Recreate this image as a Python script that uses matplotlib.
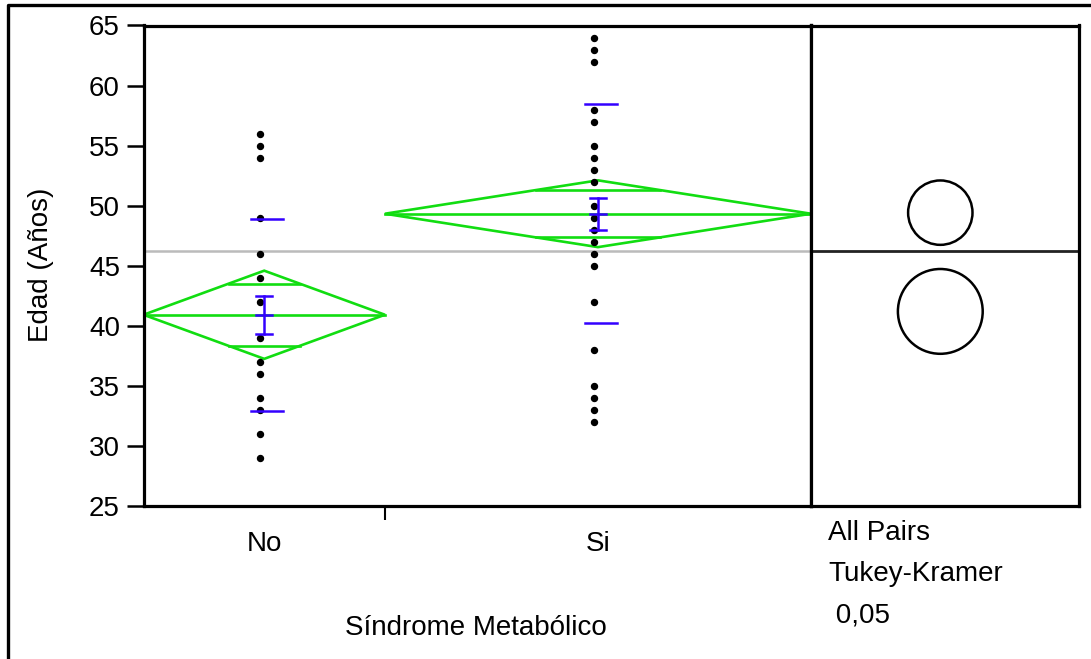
import numpy as np
import matplotlib
matplotlib.use('Agg')
import matplotlib.pyplot as plt
from matplotlib.lines import Line2D
from matplotlib.patches import Polygon, Circle

plt.rcParams['font.family'] = ['Liberation Sans', 'DejaVu Sans']

# data
groups = ['No', 'Si']
group_n = [17, 30]
ages_no = [56, 55, 54, 49, 46, 44, 42, 39, 37, 36, 34, 33, 31, 29]
ages_si = [64, 63, 62, 58, 57, 55, 54, 53, 52, 50, 49, 48, 47, 46, 45, 42, 38, 35, 34, 33, 32]
means = [40.92, 49.33]
ci_half = [3.67, 2.78]
se = [1.57, 1.35]
sd = [8.0, 9.1]
grand_mean = 46.25
circle_centers = [41.2, 49.42]
circle_radii = [3.53, 2.68]
yticks = [25, 30, 35, 40, 45, 50, 55, 60, 65]

W, H = 1091, 659
GREEN = '#11dd11'
BLUE = '#3300ff'
FS = 20


def rect(x0, y0, x1, y1):
    return [x0 / W, 1 - y1 / H, (x1 - x0) / W, (y1 - y0) / H]


fig = plt.figure(figsize=(W / 100, H / 100), dpi=100)
ax = fig.add_axes(rect(143.5, 25.5, 811, 506))
axc = fig.add_axes(rect(811, 25.5, 1079, 506))

# group spans proportional to n
edges = np.concatenate([[0], np.cumsum(group_n)])
total = edges[-1]
px_per_unit = (811 - 143.5) / total

ax.axhline(grand_mean, color='#bbbbbb', lw=1.8, zorder=1)

for i, ages in enumerate([ages_no, ages_si]):
    a, b = edges[i], edges[i + 1]
    c = (a + b) / 2
    m, h = means[i], ci_half[i]
    # diamond
    ax.add_patch(Polygon([(a, m), (c, m + h), (b, m), (c, m - h)], closed=True,
                         fill=False, edgecolor=GREEN, lw=1.9, zorder=2))
    ax.plot([a, b], [m, m], color=GREEN, lw=1.9, zorder=2)
    off = h / np.sqrt(2)
    hw = (b - a) / 2 * (1 - 1 / np.sqrt(2))
    for yy in (m + off, m - off):
        ax.plot([c - hw, c + hw], [yy, yy], color=GREEN, lw=1.9, zorder=2)
    # points
    ax.plot([c - 4 / px_per_unit] * len(ages), ages, 'o', color='black',
            markersize=4.3, zorder=3)
    # error bar (standard error)
    cap = 8 / px_per_unit
    ax.plot([c, c], [m - se[i], m + se[i]], color=BLUE, lw=1.8, zorder=4)
    for yy in (m - se[i], m, m + se[i]):
        ax.plot([c - cap, c + cap], [yy, yy], color=BLUE, lw=1.8, zorder=4)
    # std dev marks
    sc = c + 3 / px_per_unit
    sw = 16 / px_per_unit
    for yy in (m - sd[i], m + sd[i]):
        ax.plot([sc - sw, sc + sw], [yy, yy], color=BLUE, lw=1.8, zorder=4)

ax.set_xlim(0, total)
ax.set_ylim(25, 65)
ax.set_yticks(yticks)
ax.set_xticks(edges[1:-1])
ax.set_xticklabels([])
centers = (edges[:-1] + edges[1:]) / 2
ax.set_xticks(centers, labels=groups, minor=True)
ax.tick_params(axis='y', direction='out', length=12, width=1.8, labelsize=FS, pad=5)
ax.tick_params(axis='x', which='major', direction='out', length=10, width=1.5)
ax.tick_params(axis='x', which='minor', length=0, labelsize=FS, pad=18)
for s in ax.spines.values():
    s.set_linewidth(2.3)

# comparison circles panel
h_px = 506 - 25.5
w_px = 1079 - 811
xr = (w_px / h_px) * 40
axc.set_ylim(25, 65)
axc.set_xlim(0, xr)
cx = (940.3 - 811) / (h_px / 40)
axc.axhline(grand_mean, color='#222222', lw=2.0)
for yc, r in zip(circle_centers, circle_radii):
    axc.add_patch(Circle((cx, yc), r, fill=False, edgecolor='black', lw=1.8))
axc.set_xticks([])
axc.set_yticks([])
for s in axc.spines.values():
    s.set_linewidth(2.3)

# labels
fig.text(41 / W, 1 - 265 / H, 'Edad (Años)', rotation=90, ha='center', va='center', fontsize=FS)
fig.text(476 / W, 1 - 628 / H, 'Síndrome Metabólico', ha='center', va='center', fontsize=FS)
fig.text(828 / W, 1 - 533 / H, 'All Pairs', ha='left', va='center', fontsize=FS)
fig.text(828 / W, 1 - 574 / H, 'Tukey-Kramer', ha='left', va='center', fontsize=FS)
fig.text(828 / W, 1 - 616 / H, ' 0,05', ha='left', va='center', fontsize=FS)

# outer frame (cropped at right and bottom)
fig.add_artist(Line2D([7.5 / W, 7.5 / W, 1.0], [0.0, 1 - 5 / H, 1 - 5 / H],
                      transform=fig.transFigure, color='black', lw=2.4))

fig.savefig('out.png', dpi=100)
